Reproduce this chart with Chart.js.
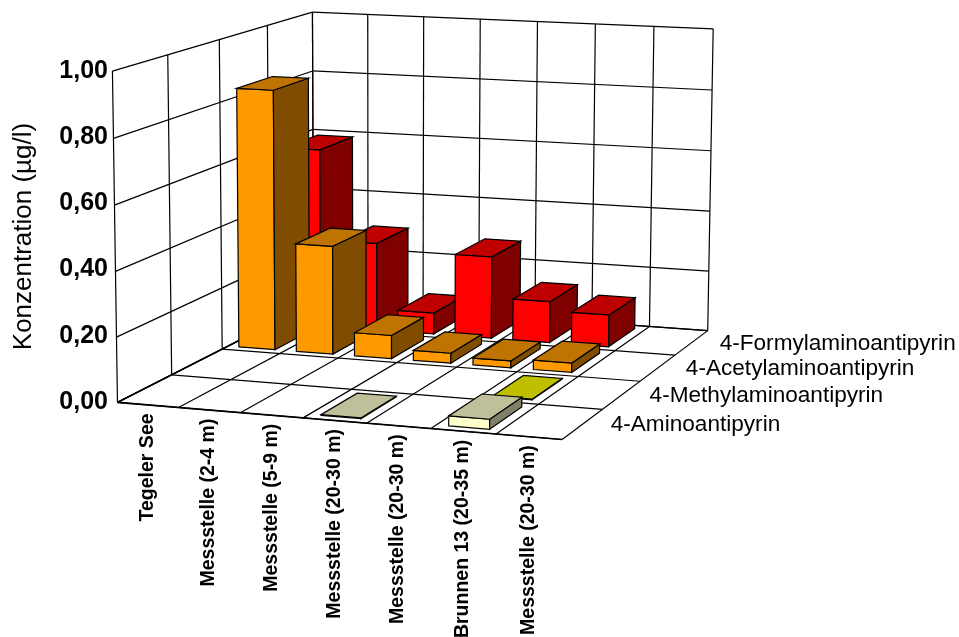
<!DOCTYPE html>
<html>
<head>
<meta charset="utf-8">
<script src="https://cdn.jsdelivr.net/npm/chart.js@4"></script>
<style>
  html, body { margin: 0; padding: 0; background: #fff; }
  canvas { display: block; }
</style>
</head>
<body>
<canvas id="chart" width="959" height="637"></canvas>
<script>
// values in µg/l
const categories = ['Tegeler See', 'Messstelle (2-4 m)', 'Messstelle (5-9 m)', 'Messstelle (20-30 m)',
  'Messstelle (20-30 m)', 'Brunnen 13 (20-35 m)', 'Messstelle (20-30 m)'];
const seriesNames = ['4-Aminoantipyrin', '4-Methylaminoantipyrin', '4-Acetylaminoantipyrin', '4-Formylaminoantipyrin'];
const aminoValues = [null, null, null, 0.002, null, 0.03, null];
const methylValues = [null, null, null, null, null, 0.002, null];
const acetylValues = [0.84, 0.35, 0.075, 0.032, 0.022, 0.03, null];
const formylValues = [0.59, 0.29, 0.07, 0.27, 0.135, 0.105, null];
const yTicks = [0, 0.2, 0.4, 0.6, 0.8, 1];

const seriesColors = ['#FFFFCC', '#FFFF00', '#FF9900', '#FF0000'];

// where the corners of the 3D box landed on the page: [column, value, row, px, py]
const boxCorners = [
  [0, 0, 0, 118, 402], [7, 0, 0, 562, 440], [7, 0, 4, 708, 330], [0, 0, 4, 313, 303],
  [0, 1, 0, 112, 71], [0, 1, 4, 313, 12], [7, 1, 4, 713, 29]
];

// least squares fit of the projection matrix
function fitProjection(points) {
  const rows = [];
  points.forEach(([a, b, c, px, py]) => {
    rows.push([a, b, c, 1, 0, 0, 0, 0, -px * a, -px * b, -px * c, px]);
    rows.push([0, 0, 0, 0, a, b, c, 1, -py * a, -py * b, -py * c, py]);
  });
  const n = 11;
  const m = [];
  for (let i = 0; i < n; i++) {
    m.push([]);
    for (let j = 0; j <= n; j++) {
      m[i].push(rows.reduce((sum, r) => sum + r[i] * r[j], 0));
    }
  }
  for (let i = 0; i < n; i++) {
    let best = i;
    for (let k = i + 1; k < n; k++) if (Math.abs(m[k][i]) > Math.abs(m[best][i])) best = k;
    [m[i], m[best]] = [m[best], m[i]];
    for (let k = 0; k < n; k++) {
      if (k === i) continue;
      const f = m[k][i] / m[i][i];
      for (let j = i; j <= n; j++) m[k][j] -= f * m[i][j];
    }
  }
  return m.map((r, i) => r[n] / r[i]);
}

const P = fitProjection(boxCorners);
function project(a, b, c) {
  const w = P[8] * a + P[9] * b + P[10] * c + 1;
  return [(P[0] * a + P[1] * b + P[2] * c + P[3]) / w, (P[4] * a + P[5] * b + P[6] * c + P[7]) / w];
}

function line(ctx, p, q) {
  ctx.beginPath();
  ctx.moveTo(p[0], p[1]);
  ctx.lineTo(q[0], q[1]);
  ctx.stroke();
}

function face(ctx, pts, color) {
  ctx.beginPath();
  pts.forEach((p, i) => i ? ctx.lineTo(p[0], p[1]) : ctx.moveTo(p[0], p[1]));
  ctx.closePath();
  ctx.fillStyle = color;
  ctx.fill();
  ctx.stroke();
}

function shade(hex, f) {
  const n = parseInt(hex.slice(1), 16);
  const c = [n >> 16, (n >> 8) & 255, n & 255].map(v => Math.round(v * f));
  return `rgb(${c[0]},${c[1]},${c[2]})`;
}

// draws walls, floor and bars in perspective, positions come from the chart scales
const box3d = {
  id: 'box3d',
  beforeDatasetsDraw(chart) {
    const ctx = chart.ctx;
    const xs = chart.scales.x;
    const ys = chart.scales.y;
    const cols = categories.length;
    const rows = chart.data.datasets.length;
    const colOf = i => (xs.getPixelForValue(i) - xs.left) / xs.width * cols;
    const valOf = v => (ys.bottom - ys.getPixelForValue(v)) / ys.height;

    ctx.save();
    ctx.strokeStyle = '#000';
    ctx.lineWidth = 1.2;

    // horizontal grid on the two walls
    ys.ticks.forEach(t => {
      const v = valOf(t.value);
      line(ctx, project(0, v, 0), project(0, v, rows));
      line(ctx, project(0, v, rows), project(cols, v, rows));
    });
    // vertical grid on the walls, lines on the floor
    for (let c = 0; c <= rows; c++) {
      line(ctx, project(0, 0, c), project(0, 1, c));
      line(ctx, project(0, 0, c), project(cols, 0, c));
    }
    for (let i = 0; i <= cols; i++) {
      line(ctx, project(i, 0, rows), project(i, 1, rows));
      line(ctx, project(i, 0, 0), project(i, 0, rows));
    }
    ctx.lineWidth = 1.6;
    line(ctx, project(0, 0, 0), project(cols, 0, 0));
    line(ctx, project(0, 0, 0), project(0, 0, rows));
    ctx.lineWidth = 1.2;

    // bars, back row first and left to right
    for (let d = rows - 1; d >= 0; d--) {
      const ds = chart.data.datasets[d];
      ds.data.forEach((value, i) => {
        if (value === null) return;
        const a0 = colOf(i) - 0.31;
        const a1 = colOf(i) + 0.32;
        const c0 = d + 0.12;
        const c1 = d + 0.87;
        const v = valOf(value);
        const base = ds.backgroundColor;
        face(ctx, [project(a0, 0, c0), project(a1, 0, c0), project(a1, v, c0), project(a0, v, c0)], base);
        face(ctx, [project(a1, 0, c0), project(a1, 0, c1), project(a1, v, c1), project(a1, v, c0)], shade(base, 0.5));
        face(ctx, [project(a0, v, c0), project(a1, v, c0), project(a1, v, c1), project(a0, v, c1)], shade(base, 0.75));
      });
    }

    // category labels follow the slanted front edge
    ctx.fillStyle = '#000';
    ctx.font = 'bold 19.5px "Liberation Sans"';
    ctx.textBaseline = 'middle';
    ctx.textAlign = 'right';
    categories.forEach((label, i) => {
      const p = project(colOf(i), 0, 0);
      ctx.save();
      ctx.translate(p[0] - 0.5, p[1] + 8.5);
      ctx.rotate(-Math.PI / 2);
      ctx.fillText(label, 0, 0);
      ctx.restore();
    });

    // series labels along the right edge of the floor
    ctx.font = '22.6px "Liberation Sans"';
    ctx.textAlign = 'left';
    chart.data.datasets.forEach((ds, d) => {
      const p = project(cols, 0, d + 0.5);
      ctx.fillText(ds.label, p[0] + 28, p[1] + 1);
    });
    ctx.restore();
    return false;
  }
};

new Chart(document.getElementById('chart'), {
  type: 'bar',
  data: {
    labels: categories,
    datasets: [aminoValues, methylValues, acetylValues, formylValues].map((values, d) => ({
      label: seriesNames[d],
      data: values,
      backgroundColor: seriesColors[d]
    }))
  },
  plugins: [box3d],
  options: {
    responsive: false,
    animation: false,
    layout: { padding: { top: 71, bottom: 235, right: 0, left: 0 } },
    plugins: { legend: { display: false }, tooltip: { enabled: false } },
    scales: {
      x: { display: false },
      y: {
        min: 0,
        max: 1,
        afterFit: scale => { scale.width = 112; },
        afterBuildTicks: scale => { scale.ticks = yTicks.map(value => ({ value })); },
        grid: { display: false, drawTicks: false },
        border: { display: false },
        ticks: {
          padding: 4,
          color: '#000',
          font: { family: '"Liberation Sans"', size: 25, weight: 'bold' },
          callback: v => v.toFixed(2).replace('.', ',')
        },
        title: {
          display: true,
          text: 'Konzentration (µg/l)',
          color: '#000',
          padding: { top: 8, bottom: 0 },
          font: { family: '"Liberation Sans"', size: 26 }
        }
      }
    }
  }
});
</script>
</body>
</html>
